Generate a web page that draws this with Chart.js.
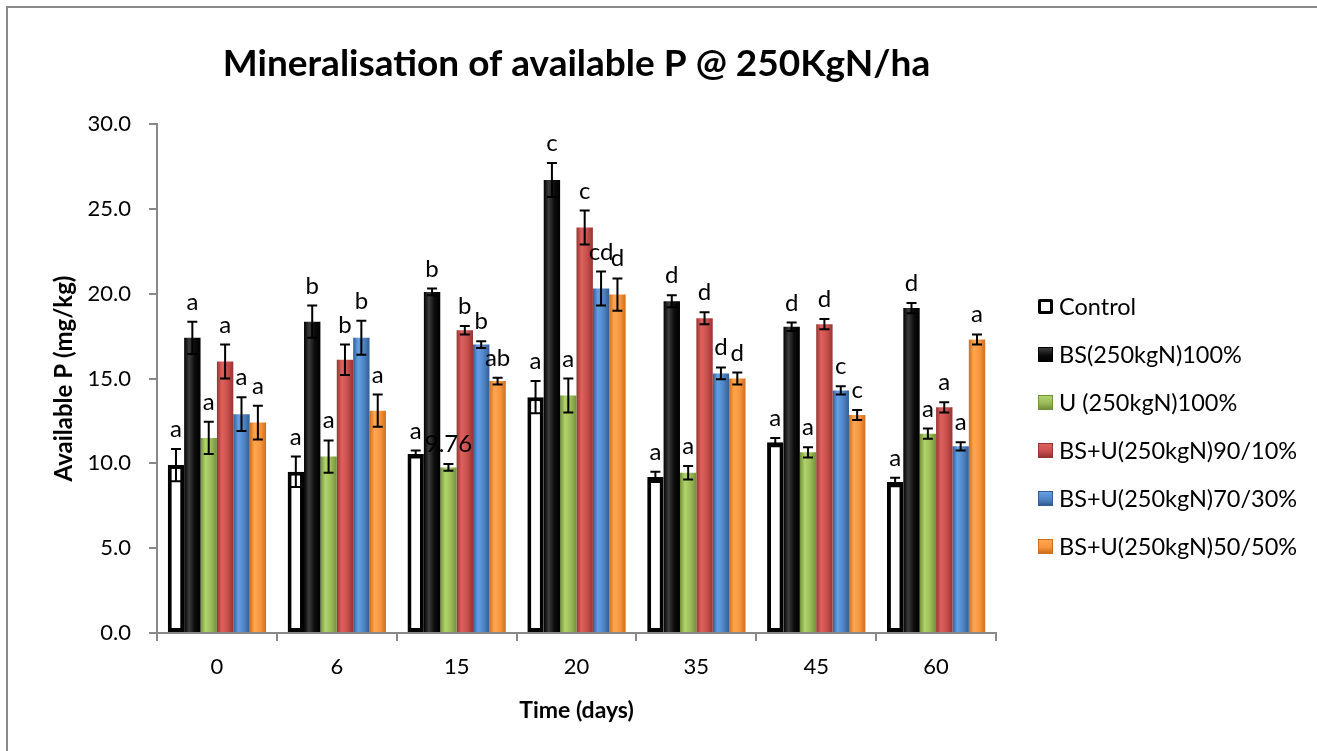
<!DOCTYPE html>
<html>
<head>
<meta charset="utf-8">
<title>Mineralisation of available P</title>
<script src="https://cdn.jsdelivr.net/npm/chart.js@4.4.1/dist/chart.umd.min.js"></script>
<style>
  html, body { margin: 0; padding: 0; background: #fff; }
  #wrap { position: relative; width: 1317px; height: 751px; overflow: hidden; }
  #frame { position: absolute; left: 6px; top: 6px; width: 1400px; height: 900px; border: 2px solid #8a8a8a; pointer-events: none; }
  #legend { position: absolute; left: 1038px; top: 282px; font-family: Lato, sans-serif; font-size: 23.5px; color: #000; }
  #legend .row { height: 48px; display: flex; align-items: center; white-space: nowrap; }
  #legend .box { width: 15px; height: 15px; margin-right: 6px; box-sizing: border-box; flex: none; }
</style>
</head>
<body>
<div id="wrap">
  <canvas id="pChart" width="1317" height="751"></canvas>
  <div id="legend"></div>
  <div id="frame"></div>
</div>
<script>
// sampling days
const days = ['0', '6', '15', '20', '35', '45', '60'];
const seriesNames = ['Control', 'BS(250kgN)100%', 'U (250kgN)100%', 'BS+U(250kgN)90/10%', 'BS+U(250kgN)70/30%', 'BS+U(250kgN)50/50%'];

// available P (mg/kg) and standard errors
const control    = [9.9, 9.5, 10.55, 13.9, 9.2, 11.25, 8.9];
const controlErr = [0.95, 0.9, 0.2, 0.95, 0.3, 0.25, 0.25];
const bs         = [17.4, 18.35, 20.1, 26.7, 19.55, 18.05, 19.15];
const bsErr      = [0.95, 0.95, 0.2, 1.0, 0.35, 0.25, 0.3];
const urea       = [11.5, 10.4, 9.76, 14.0, 9.45, 10.65, 11.75];
const ureaErr    = [0.95, 0.95, 0.2, 1.0, 0.4, 0.3, 0.3];
const mix90      = [16.0, 16.1, 17.85, 23.9, 18.55, 18.2, 13.3];
const mix90Err   = [1.0, 0.9, 0.25, 1.0, 0.35, 0.3, 0.3];
const mix70      = [12.9, 17.4, 17.0, 20.3, 15.3, 14.3, 11.0];
const mix70Err   = [1.0, 1.0, 0.2, 1.0, 0.35, 0.25, 0.25];
const mix50      = [12.4, 13.1, 14.85, 19.95, 15.0, 12.85, 17.3];
const mix50Err   = [1.0, 0.95, 0.2, 0.95, 0.35, 0.3, 0.3];

// significance letters above each bar
const controlTags = ['a', 'a', 'a', 'a', 'a', 'a', 'a'];
const bsTags      = ['a', 'b', 'b', 'c', 'd', 'd', 'd'];
const ureaTags    = ['a', 'a', '9.76', 'a', 'a', 'a', 'a'];
const mix90Tags   = ['a', 'b', 'b', 'c', 'd', 'd', 'a'];
const mix70Tags   = ['a', 'b', 'b', 'cd', 'd', 'c', 'a'];
const mix50Tags   = ['a', 'a', 'ab', 'd', 'd', 'c', 'a'];

const yMin = 0, yMax = 30, yStep = 5;

const CAT_PCT = 0.82;
const FONT = 'Lato, "Open Sans", sans-serif';

// cylinder-ish shading across each bar
function shade(light, mid, dark) {
  return (c) => {
    const chart = c.chart, x = chart.scales.x;
    if (c.type !== 'data' || !x || !x.width) return mid;
    const n = chart.data.datasets.length;
    const slot = x.width / days.length * CAT_PCT / n;
    const cx = x.getPixelForValue(c.dataIndex) + (c.datasetIndex - (n - 1) / 2) * slot;
    const g = chart.ctx.createLinearGradient(cx - slot / 2, 0, cx + slot / 2, 0);
    g.addColorStop(0, dark);
    g.addColorStop(0.3, light);
    g.addColorStop(0.65, mid);
    g.addColorStop(1, dark);
    return g;
  };
}

const palette = [
  { solid: '#ffffff' },
  { light: '#3c3c3c', mid: '#0c0c0c', dark: '#000000' },
  { light: '#b0d46c', mid: '#9bbb59', dark: '#73903a' },
  { light: '#de625e', mid: '#c8504c', dark: '#963432' },
  { light: '#64a0e4', mid: '#4f85c6', dark: '#335d92' },
  { light: '#ffa650', mid: '#f7963e', dark: '#cf6e1c' }
];

const values = [control, bs, urea, mix90, mix70, mix50];
const errs = [controlErr, bsErr, ureaErr, mix90Err, mix70Err, mix50Err];
const tags = [controlTags, bsTags, ureaTags, mix90Tags, mix70Tags, mix50Tags];

const datasets = seriesNames.map((name, i) => {
  const p = palette[i];
  const ds = {
    label: name,
    data: values[i],
    errors: errs[i],
    tags: tags[i],
    categoryPercentage: CAT_PCT,
    barPercentage: 1.0
  };
  if (i === 0) {
    ds.backgroundColor = '#ffffff';
    ds.borderColor = '#000000';
    ds.borderWidth = 4;
    ds.borderSkipped = false;
  } else {
    ds.backgroundColor = shade(p.light, p.mid, p.dark);
    ds.borderWidth = 0;
  }
  return ds;
});

// error bars plus the letter above each one
const errorBars = {
  id: 'errorBars',
  afterDatasetsDraw(chart) {
    const { ctx } = chart;
    const y = chart.scales.y;
    ctx.save();
    chart.data.datasets.forEach((ds, i) => {
      const meta = chart.getDatasetMeta(i);
      meta.data.forEach((bar, j) => {
        const v = ds.data[j], e = ds.errors[j];
        const top = y.getPixelForValue(v + e);
        const bot = y.getPixelForValue(v - e);
        ctx.strokeStyle = '#000';
        ctx.lineWidth = 2;
        ctx.beginPath();
        ctx.moveTo(bar.x, top); ctx.lineTo(bar.x, bot);
        ctx.moveTo(bar.x - 5, top); ctx.lineTo(bar.x + 5, top);
        ctx.moveTo(bar.x - 5, bot); ctx.lineTo(bar.x + 5, bot);
        ctx.stroke();
        ctx.fillStyle = '#000';
        ctx.font = '24px ' + FONT;
        ctx.textAlign = 'center';
        ctx.textBaseline = 'alphabetic';
        ctx.fillText(ds.tags[j], bar.x, top - 12);
      });
    });
    ctx.restore();
  }
};

function buildLegend() {
  const box = document.getElementById('legend');
  seriesNames.forEach((name, i) => {
    const row = document.createElement('div');
    row.className = 'row';
    const sw = document.createElement('span');
    sw.className = 'box';
    const p = palette[i];
    if (i === 0) {
      sw.style.border = '3px solid #000';
      sw.style.borderRadius = '2px';
      sw.style.background = '#fff';
    } else {
      sw.style.background = 'linear-gradient(180deg,' + p.light + ',' + p.mid + ' 55%,' + p.dark + ')';
      sw.style.border = '1px solid ' + p.dark;
    }
    const txt = document.createElement('span');
    txt.textContent = name;
    row.appendChild(sw);
    row.appendChild(txt);
    box.appendChild(row);
  });
}

function draw() {
  buildLegend();
  const ctx = document.getElementById('pChart').getContext('2d');
  new Chart(ctx, {
    type: 'bar',
    data: { labels: days, datasets },
    plugins: [errorBars],
    options: {
      responsive: false,
      animation: false,
      devicePixelRatio: 1,
      layout: { padding: { left: 10, right: 321, top: 0, bottom: 10 } },
      plugins: {
        legend: { display: false },
        tooltip: { enabled: false },
        title: {
          display: true,
          fullSize: false,
          text: 'Mineralisation of available P @ 250KgN/ha',
          color: '#000',
          font: { family: FONT, size: 37, weight: 'bold' },
          padding: { top: 42, bottom: 37.6 }
        }
      },
      scales: {
        x: {
          grid: { drawOnChartArea: false, offset: true, tickLength: 8, color: '#898989', lineWidth: 2 },
          border: { color: '#898989', width: 2 },
          ticks: { color: '#000', font: { family: FONT, size: 22 }, padding: 13 },
          title: {
            display: true, text: 'Time (days)', color: '#000',
            font: { family: FONT, size: 23, weight: 'bold' },
            padding: { top: 0, bottom: 17 }
          },
          afterFit(s) { s.height = 108; }
        },
        y: {
          min: yMin, max: yMax,
          grid: { drawOnChartArea: false, tickLength: 8, color: '#898989', lineWidth: 2 },
          border: { color: '#898989', width: 2 },
          ticks: { stepSize: yStep, color: '#000', font: { family: FONT, size: 22 }, padding: 18,
                   callback: v => v.toFixed(1) },
          title: {
            display: true, text: 'Available P (mg/kg)', color: '#000',
            font: { family: FONT, size: 24, weight: 'bold' },
            padding: { top: 40, bottom: 0 }
          },
          afterFit(s) { s.width = 147; }
        }
      }
    }
  });
}

if (document.fonts && document.fonts.load) {
  Promise.all([document.fonts.load('22px Lato'), document.fonts.load('bold 22px Lato')]).then(draw, draw);
} else {
  draw();
}
</script>
</body>
</html>
